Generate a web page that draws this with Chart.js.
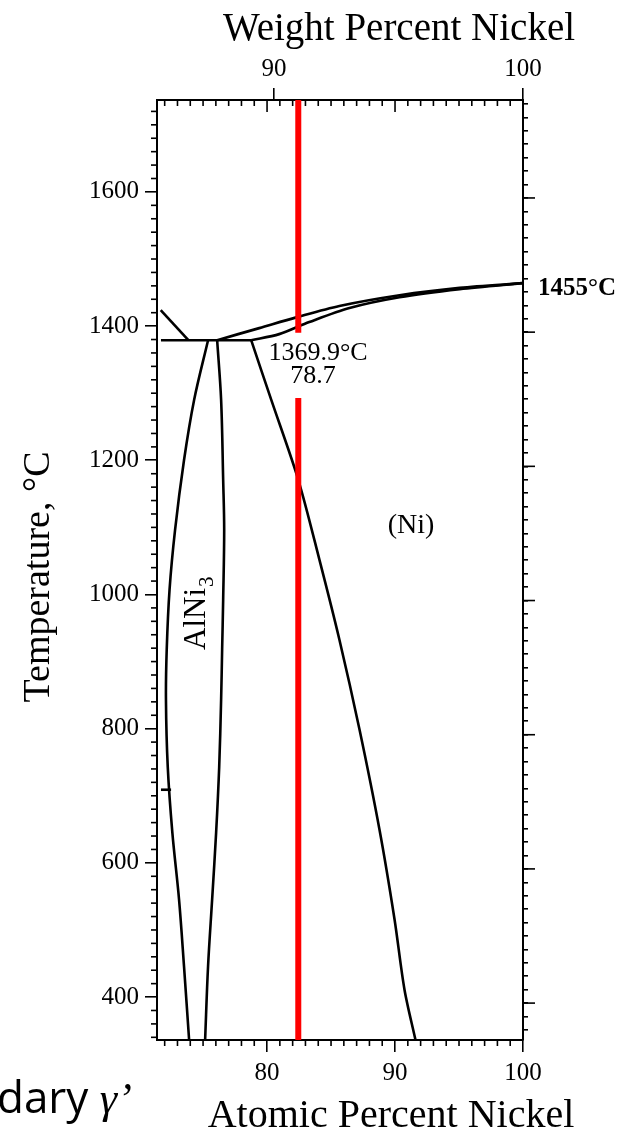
<!DOCTYPE html>
<html><head><meta charset="utf-8">
<script src="https://cdn.jsdelivr.net/npm/chart.js@4/dist/chart.umd.min.js"></script>
<style>
html,body{margin:0;padding:0;background:#fff;}
#wrap{position:relative;width:625px;height:1131px;}
canvas{display:block;}
</style></head><body>
<div id="wrap"><canvas id="c" width="625" height="1131"></canvas></div>
<script>
// ---- axis ranges & tick labels ----
const atomicRange = [71.4, 100];
const tempRange = [336, 1737];
const rightTempShift = 9;            // right-hand mirror axis is drawn slightly higher in the reference
const atomicTicks = [80, 90, 100];
const weightTicks = [90, 100];
const tempTicks = [400, 600, 800, 1000, 1200, 1400, 1600];

// ---- phase boundaries (atomic % Ni, °C) ----
const liquidusAt = [76.10, 79.39, 82.28, 85.65, 90.35, 95.05, 100];
const liquidusT  = [1379, 1397, 1413, 1430, 1446, 1457, 1464];
const solidusAt  = [78.76, 80.95, 83.30, 86.44, 90.35, 95.05, 100];
const solidusT   = [1379, 1388, 1406, 1427, 1443, 1455, 1464];
const alni3LeftAt = [75.39, 74.30, 73.51, 72.81, 72.38, 72.16, 72.10, 72.24, 72.60, 73.12, 73.51, 73.91];
const alni3LeftT  = [1379, 1290, 1200, 1096, 1007, 918, 843, 743, 645, 546, 446, 336];
const alni3RightAt = [76.10, 76.41, 76.57, 76.65, 76.57, 76.49, 76.41, 76.26, 76.02, 75.71, 75.39, 75.16];
const alni3RightT  = [1379, 1290, 1171, 1096, 992, 918, 843, 743, 645, 546, 446, 336];
const solvusAt = [78.76, 80.33, 82.44, 84.09, 85.65, 87.22, 88.78, 89.96, 90.74, 91.60];
const solvusT  = [1379, 1290, 1171, 1052, 933, 799, 650, 516, 411, 336];
const isothermAt = [71.71, 78.76];
const isothermT  = [1379, 1379];
const leftLiqAt = [71.69, 73.85];
const leftLiqT  = [1424, 1379];
const stubAt = [71.71, 72.50];
const stubT  = [709, 709];
// red composition marker
const markerAt = 82.44;
const markerTopT = [1737, 1390];
const markerBottomT = [1293, 336];

// ---- helpers ----
function zip(xs, ys){ return xs.map((v,i)=>({x:v, y:ys[i]})); }
function wtToAt(w){ const ni = w/58.693, al = (100-w)/26.982; return 100*ni/(ni+al); }

const SERIF = 'Liberation Serif';
const black = '#000';
function curve(xs, ys, w, tension){ return {data: zip(xs, ys), showLine:true, borderColor:black, borderWidth:w||2.6, pointRadius:0, fill:false, tension:tension||0, xAxisID:'x', yAxisID:'y'}; }

const datasets = [
  {data: zip([markerAt, markerAt], markerTopT), showLine:true, borderColor:'#ff0000', borderWidth:6, pointRadius:0, xAxisID:'x', yAxisID:'y'},
  {data: zip([markerAt, markerAt], markerBottomT), showLine:true, borderColor:'#ff0000', borderWidth:6, pointRadius:0, xAxisID:'x', yAxisID:'y'},
  curve(liquidusAt, liquidusT, 2.7, 0.3),
  curve(solidusAt, solidusT, 2.7, 0.3),
  curve(alni3LeftAt, alni3LeftT, 2.6, 0.35),
  curve(alni3RightAt, alni3RightT, 2.6, 0.35),
  curve(solvusAt, solvusT, 2.6, 0.3),
  curve(isothermAt, isothermT),
  curve(leftLiqAt, leftLiqT),
  curve(stubAt, stubT, 2.6)
];

function line(ctx, x1, y1, x2, y2){ ctx.beginPath(); ctx.moveTo(x1,y1); ctx.lineTo(x2,y2); ctx.stroke(); }

const deco = {
  id:'deco',
  afterDraw(chart){
    const ctx = chart.ctx, a = chart.chartArea, sx = chart.scales.x, sy = chart.scales.y, syR = chart.scales.yR;
    ctx.save();
    ctx.strokeStyle = black; ctx.lineWidth = 1.6;
    // left minor ticks (outward)
    for (let t = 340; t <= 1720; t += 20){ if (t % 200 === 0) continue; const p = sy.getPixelForValue(t); line(ctx, a.left-6, p, a.left, p); }
    // right long ticks
    for (let t = 400; t <= 1600; t += 200){ const p = syR.getPixelForValue(t); line(ctx, a.right, p, a.right+12, p); }
    // bottom minor ticks
    for (let v = 72; v <= 99; v++){ if (v % 10 === 0) continue; const p = sx.getPixelForValue(v); line(ctx, p, a.bottom, p, a.bottom+6); }
    // top inward atomic ticks
    for (let v = 72; v <= 99; v++){ const p = sx.getPixelForValue(v); line(ctx, p, a.top, p, a.top + (v % 10 === 0 ? 12 : 6)); }

    ctx.fillStyle = black;
    // axis titles
    ctx.textAlign = 'center'; ctx.textBaseline = 'alphabetic';
    ctx.font = '39px "' + SERIF + '"';
    ctx.fillText('Weight Percent Nickel', 399, 40);
    ctx.font = '40px "' + SERIF + '"';
    ctx.fillText('Atomic Percent Nickel', 391, 1127);
    ctx.font = '38px "' + SERIF + '"';
    ctx.save(); ctx.translate(49, 577); ctx.rotate(-Math.PI/2);
    ctx.fillText('Temperature, \u00B0C', 0, 0); ctx.restore();

    // in-plot labels
    ctx.font = '26px "' + SERIF + '"';
    ctx.fillText('1369.9\u00B0C', 318, 360);
    ctx.fillText('78.7', 313, 383);
    ctx.font = '28px "' + SERIF + '"';
    ctx.fillText('(Ni)', 411, 533);

    ctx.save(); ctx.translate(205, 650); ctx.rotate(-Math.PI/2);
    ctx.textAlign = 'left'; ctx.font = '31px "' + SERIF + '"';
    ctx.fillText('AlNi', 0, 0);
    const w = ctx.measureText('AlNi').width;
    ctx.font = '21px "' + SERIF + '"';
    ctx.fillText('3', w + 1, 8);
    ctx.restore();

    ctx.textAlign = 'left';
    ctx.font = 'bold 25px "' + SERIF + '"';
    ctx.fillText('1455\u00B0C', 538, 295);

    // cropped slide text at bottom-left
    ctx.font = '44px "Open Sans"';
    ctx.fillText('dary ', -3, 1113);
    const dw = ctx.measureText('dary ').width;
    ctx.font = 'italic 44px "' + SERIF + '"';
    ctx.fillText('\u03B3\u2019', -3 + dw, 1113);
    ctx.restore();
  }
};

const tickFont = {family: SERIF, size: 25};
const gridCommon = {drawOnChartArea:false, color:black, lineWidth:1.6, tickLength:12};
const borderCommon = {color:black, width:2};

new Chart(document.getElementById('c'), {
  type:'scatter',
  data:{datasets},
  options:{
    responsive:false, animation:false, devicePixelRatio:1,
    layout:{padding:0},
    plugins:{legend:{display:false}, tooltip:{enabled:false}},
    scales:{
      x:{type:'linear', position:'bottom', min:atomicRange[0], max:atomicRange[1],
         afterBuildTicks: s => { s.ticks = atomicTicks.map(v => ({value:v})); },
         afterFit: s => { s.height = 91; },
         ticks:{font:tickFont, color:black, padding:6, autoSkip:false, maxRotation:0, minRotation:0, callback: v => String(v)},
         grid:gridCommon, border:borderCommon},
      xTop:{type:'linear', position:'top', min:atomicRange[0], max:atomicRange[1],
         afterBuildTicks: s => { s.ticks = weightTicks.map(w => ({value:wtToAt(w)})); },
         afterFit: s => { s.height = 100; },
         ticks:{font:tickFont, color:black, padding:4, autoSkip:false, maxRotation:0, minRotation:0, callback: (v, i) => String(weightTicks[i])},
         grid:gridCommon, border:borderCommon},
      y:{type:'linear', position:'left', min:tempRange[0], max:tempRange[1],
         afterBuildTicks: s => { s.ticks = tempTicks.map(v => ({value:v})); },
         afterFit: s => { s.width = 157; },
         ticks:{font:tickFont, color:black, padding:6, autoSkip:false, callback: v => String(v)},
         grid:gridCommon, border:borderCommon},
      yR:{type:'linear', position:'right', min:tempRange[0]+rightTempShift, max:tempRange[1]+rightTempShift,
         afterBuildTicks: s => { const t = []; for (let v = 360; v <= 1740; v += 20) t.push({value:v}); s.ticks = t; },
         afterFit: s => { s.width = 102; },
         ticks:{display:false, autoSkip:false},
         grid:{drawOnChartArea:false, color:black, lineWidth:1.6, tickLength:5}, border:borderCommon}
    }
  },
  plugins:[deco]
});
</script>
</body></html>
